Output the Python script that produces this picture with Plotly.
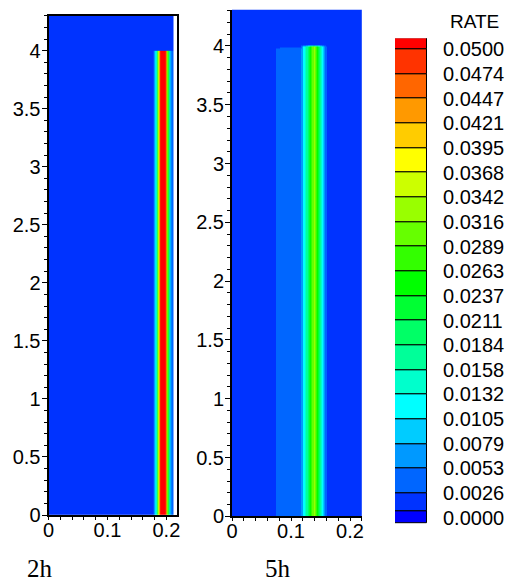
import plotly.graph_objects as go

# ---------------------------------------------------------------
# Contour levels of RATE (20 levels, Tecplot style flood legend)
# ---------------------------------------------------------------
LEVEL_LABELS = ["0.0000", "0.0026", "0.0053", "0.0079", "0.0105",
                "0.0132", "0.0158", "0.0184", "0.0211", "0.0237",
                "0.0263", "0.0289", "0.0316", "0.0342", "0.0368",
                "0.0395", "0.0421", "0.0447", "0.0474", "0.0500"]
LEVELS = [float(s) for s in LEVEL_LABELS]

# flood colour of each band: below first level, 19 bands between levels, above last
BAND_COLORS = ["#0000ff", "#0033ff", "#0066ff", "#0099ff", "#00ccff",
               "#00ffff", "#00ffcc", "#00ff99", "#00ff66", "#00ff33",
               "#00ff00", "#33ff00", "#66ff00", "#99ff00", "#ccff00",
               "#ffff00", "#ffcc00", "#ff9900", "#ff6600", "#ff3300",
               "#ff0000"]

# ---------------------------------------------------------------
# 2h field: horizontal RATE profile across the column, heights of rows
# ---------------------------------------------------------------
X_2H = [0.0000, 0.1760, 0.1777, 0.1797, 0.1825, 0.1854, 0.1880, 0.1905,
        0.1940, 0.1975, 0.1992, 0.2010, 0.2028, 0.2046, 0.2068, 0.2098,
        0.2118]
PROFILE_2H = [0.0012, 0.0012, 0.0040, 0.0090, 0.0160, 0.0300, 0.0480, 0.0560,
              0.0600, 0.0560, 0.0480, 0.0340, 0.0190, 0.0100, 0.0060, 0.0045,
              0.0012]
BACKGROUND_2H = [0.0012] * len(X_2H)
Y_2H = [0.0, 3.998, 4.008, 4.30]
Z_2H = [PROFILE_2H, PROFILE_2H, BACKGROUND_2H, BACKGROUND_2H]

# ---------------------------------------------------------------
# 5h field
# ---------------------------------------------------------------
X_5H = [0.0000, 0.0722, 0.0738, 0.1150, 0.1180, 0.1210, 0.1250, 0.1300,
        0.1355, 0.1385, 0.1415, 0.1465, 0.1500, 0.1535, 0.1563, 0.1590,
        0.1608, 0.2200]
PROFILE_5H = [0.0012, 0.0012, 0.0040, 0.0045, 0.0070, 0.0110, 0.0160, 0.0230,
              0.0300, 0.0320, 0.0300, 0.0230, 0.0150, 0.0100, 0.0065, 0.0030,
              0.0012, 0.0012]
PROFILE_5H_TOP = [0.0012, 0.0012, 0.0012, 0.0012, 0.0070, 0.0110, 0.0160, 0.0230,
                  0.0300, 0.0320, 0.0300, 0.0230, 0.0150, 0.0100, 0.0065, 0.0030,
                  0.0012, 0.0012]
BACKGROUND_5H = [0.0012] * len(X_5H)
Y_5H = [0.0, 3.978, 3.996, 4.016, 4.31]
Z_5H = [PROFILE_5H, PROFILE_5H, PROFILE_5H_TOP, BACKGROUND_5H, BACKGROUND_5H]

PANEL_LABELS = ["2h", "5h"]

# ---------------------------------------------------------------
# stepped colour scale: one colour per band, band width = level spacing
# ---------------------------------------------------------------
step = (LEVELS[-1] - LEVELS[0]) / (len(LEVELS) - 1)
zmin = LEVELS[0] - step
zmax = LEVELS[-1] + step
nb = len(BAND_COLORS)
colorscale = []
for j, c in enumerate(BAND_COLORS):
    colorscale.append([j / nb, c])
    colorscale.append([(j + 1) / nb, c])

W, H = 510, 586


def px_x(a, b):
    return [a / W, b / W]


def px_y(top, bottom):
    return [1 - bottom / H, 1 - top / H]


FONT = "Liberation Sans, Arial, sans-serif"

fig = go.Figure()

fig.add_trace(go.Heatmap(x=X_2H, y=Y_2H, z=Z_2H, zsmooth="best",
                         colorscale=colorscale, zmin=zmin, zmax=zmax,
                         showscale=False, hoverinfo="skip",
                         xaxis="x", yaxis="y"))
fig.add_trace(go.Heatmap(x=X_5H, y=Y_5H, z=Z_5H, zsmooth="best",
                         colorscale=colorscale, zmin=zmin, zmax=zmax,
                         showscale=False, hoverinfo="skip",
                         xaxis="x2", yaxis="y2"))

# legend boxes, one per band, stacked on level index
# (the box under the first level is drawn short, as in the Tecplot legend)
idx = list(range(len(LEVELS)))
bases = [idx[0] - 0.22, idx[0] + 0.27] + idx[1:-1] + [idx[-1]]
tops = [idx[0] + 0.27] + idx[1:] + [idx[-1] + 0.45]
heights = [t - b for t, b in zip(tops, bases)]
fig.add_trace(go.Bar(x=[0] * len(heights), y=heights, base=bases, width=1,
                     marker=dict(color=BAND_COLORS,
                                 line=dict(color="black", width=1)),
                     cliponaxis=False, hoverinfo="skip", showlegend=False,
                     xaxis="x3", yaxis="y3"))

tickfont = dict(family=FONT, size=20, color="black")

xcommon = dict(dtick=0.1, tick0=0, ticks="outside", ticklen=3, tickwidth=1,
               tickcolor="black", showgrid=False, zeroline=False,
               showline=True, linecolor="black", linewidth=2,
               tickfont=tickfont, automargin=False, ticklabelstandoff=-7,
               minor=dict(ticks="outside", dtick=0.02, ticklen=3,
                          tickcolor="black", tickwidth=1))
ycommon = dict(dtick=0.5, tick0=0, ticks="outside", ticklen=5, tickwidth=1,
               tickcolor="black", showgrid=False, zeroline=False,
               showline=True, linecolor="black", linewidth=2,
               tickfont=tickfont, automargin=False, ticklabelstandoff=-3,
               minor=dict(ticks="outside", dtick=0.1, ticklen=3,
                          tickcolor="black", tickwidth=1))

fig.update_layout(
    width=W, height=H,
    margin=dict(l=0, r=0, t=0, b=0, autoexpand=False),
    paper_bgcolor="white", plot_bgcolor="white",
    showlegend=False,
    xaxis=dict(xcommon, domain=px_x(48.5, 177), range=[0, 0.218],
               anchor="y", mirror=True),
    yaxis=dict(ycommon, domain=px_y(15.8, 515), range=[0, 4.3],
               anchor="x", mirror=True),
    xaxis2=dict(xcommon, domain=px_x(232, 361.8), range=[0, 0.22],
                anchor="y2"),
    yaxis2=dict(ycommon, domain=px_y(9.5, 516.3), range=[0, 4.31],
                anchor="x2"),
    xaxis3=dict(domain=px_x(395, 427), range=[-0.5, 0.5], anchor="y3",
                showticklabels=False, showgrid=False, zeroline=False,
                showline=False, ticks="", automargin=False),
    yaxis3=dict(domain=px_y(38.2, 523.9), range=[-0.25, 19.45], anchor="x3",
                side="right", tickvals=idx, ticktext=LEVEL_LABELS,
                ticks="", showgrid=False, zeroline=False, showline=False,
                ticklabelstandoff=15, tickfont=tickfont, automargin=False),
    bargap=0,
    annotations=[
        dict(text="RATE", x=474 / W, y=1 - 21.7 / H, xref="paper", yref="paper",
             showarrow=False, font=dict(family=FONT, size=19, color="black"),
             xanchor="center", yanchor="middle"),
        dict(text=PANEL_LABELS[0], x=40 / W, y=1 - 568 / H, xref="paper",
             yref="paper", showarrow=False,
             font=dict(family="Liberation Serif, Times New Roman, serif",
                       size=25, color="black"),
             xanchor="center", yanchor="middle"),
        dict(text=PANEL_LABELS[1], x=278 / W, y=1 - 568 / H, xref="paper",
             yref="paper", showarrow=False,
             font=dict(family="Liberation Serif, Times New Roman, serif",
                       size=25, color="black"),
             xanchor="center", yanchor="middle"),
    ],
)

fig.write_html("out.html")
